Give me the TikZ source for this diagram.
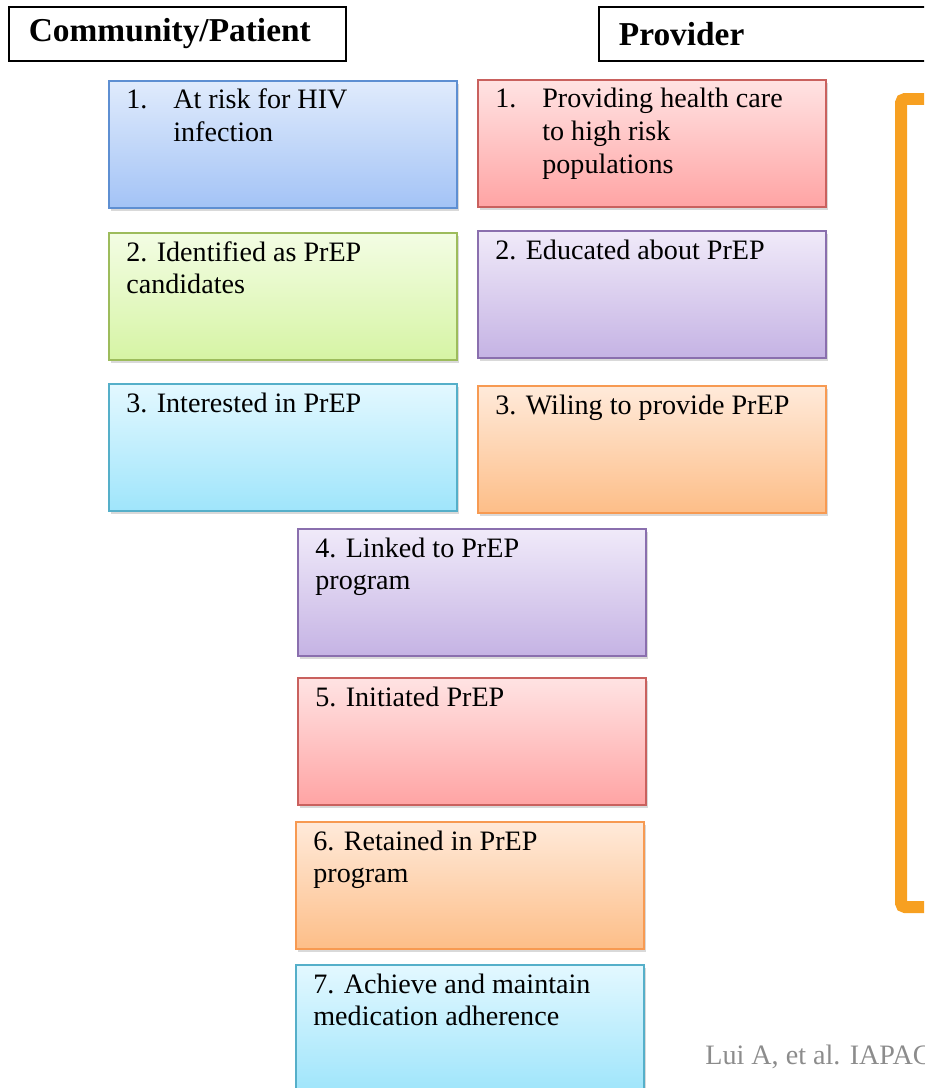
\documentclass[tikz,border=0pt]{standalone}
\usepackage{fontspec}
\setmainfont{Liberation Serif}
\usetikzlibrary{shadows}
\definecolor{blueT}{HTML}{E0EBFC}\definecolor{blueB}{HTML}{A3C3F6}\definecolor{blueD}{HTML}{5E8FD2}
\definecolor{redT}{HTML}{FFE3E3}\definecolor{redB}{HTML}{FFA4A4}\definecolor{redD}{HTML}{C9615E}
\definecolor{greenT}{HTML}{F3FDE4}\definecolor{greenB}{HTML}{D6F4A4}\definecolor{greenD}{HTML}{9DBC5C}
\definecolor{lilaT}{HTML}{F0EAF9}\definecolor{lilaB}{HTML}{C5B3E4}\definecolor{lilaD}{HTML}{8A6FAE}
\definecolor{cyanT}{HTML}{E3F8FF}\definecolor{cyanB}{HTML}{9FE5FB}\definecolor{cyanD}{HTML}{55AFC9}
\definecolor{orT}{HTML}{FFEADA}\definecolor{orB}{HTML}{FDBE88}\definecolor{orD}{HTML}{F79A52}
\definecolor{bracket}{HTML}{F7A021}
\begin{document}
\begin{tikzpicture}[x=0.02cm,y=-0.02cm,font=\fontsize{16}{18.5}\selectfont]
	\tikzset{
	hdr/.style={draw,line width=1pt,anchor=north west,minimum height=1.08cm,inner xsep=0.4cm,text width=5.94cm,align=left,font=\bfseries\fontsize{19}{22}\selectfont},
	stage/.style={draw=#1D,line width=1.1pt,top color=#1T,bottom color=#1B,anchor=north west,minimum width=6.96cm,minimum height=2.54cm,inner sep=0,
		drop shadow={shadow xshift=0.05cm,shadow yshift=-0.07cm,opacity=0.3}},
	words/.style={anchor=base west,inner sep=0},
	}
	\def\stage#1#2#3#4{\node[stage=#2](#1)at(#3){};\node[words](#1t)at([shift={(18,29)}]#1.north west){\begin{tabular}[t]{@{}l@{}}#4\end{tabular}};}
	\def\num#1{\makebox[0.94cm][l]{#1}}
	\useasboundingbox(0,0)rectangle(924,1088);
	\clip(0,0)rectangle(924,1088);
	% column heads
	\node[hdr](comm)at(8,6){Community/Patient};
	\node[hdr](prov)at(598,6){Provider};
	% community / patient steps
	\stage{c1}{blue}{108,80}{\num{1.}At risk for HIV\\\hspace*{0.94cm}infection}
	\stage{c2}{green}{108,232}{2. Identified as PrEP\\candidates}
	\stage{c3}{cyan}{108,383}{3. Interested in PrEP}
	% provider steps
	\stage{p1}{red}{477,79}{\num{1.}Providing health care\\\hspace*{0.94cm}to high risk\\\hspace*{0.94cm}populations}
	\stage{p2}{lila}{477,230}{2. Educated about PrEP}
	\stage{p3}{or}{477,385}{3. Wiling to provide PrEP}
	% joint steps
	\stage{s4}{lila}{297,528}{4. Linked to PrEP\\program}
	\stage{s5}{red}{297,677}{5. Initiated PrEP}
	\stage{s6}{or}{295,821}{6. Retained in PrEP\\program}
	\stage{s7}{cyan}{295,964}{7. Achieve and maintain\\medication adherence}
	\draw[bracket,line width=0.24cm,rounded corners=0.08cm](960,99)-|(901,907)--(960,907);
	\node[anchor=base west,inner sep=0,text=black!45,font=\fontsize{16}{19}\selectfont](src)at(705,1064){Lui A, et al. IAPAC};
\end{tikzpicture}
\end{document}
